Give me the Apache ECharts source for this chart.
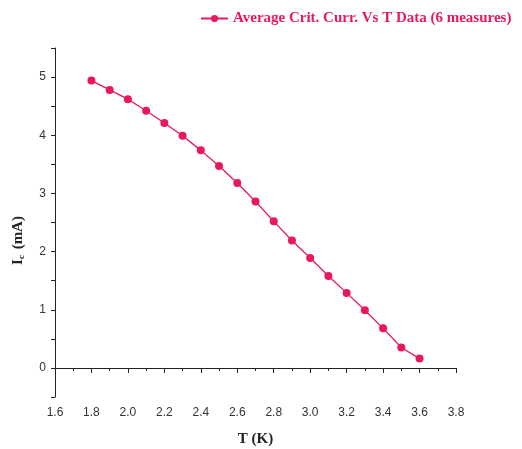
<!DOCTYPE html>
<html><head><meta charset="utf-8">
<script src="https://cdn.jsdelivr.net/npm/echarts@6/dist/echarts.min.js"></script>
<style>html,body{margin:0;padding:0;background:#fff}#c{width:522px;height:449px}</style>
</head><body><div id="c"></div>
<script>
const temperatures = [1.8,1.9,2.0,2.1,2.2,2.3,2.4,2.5,2.6,2.7,2.8,2.9,3.0,3.1,3.2,3.3,3.4,3.5,3.6];
const critCurrent = [4.94,4.78,4.62,4.42,4.21,3.99,3.74,3.47,3.18,2.86,2.52,2.19,1.89,1.58,1.29,0.99,0.68,0.35,0.16];
const seriesName = 'Average Crit. Curr. Vs T Data (6 measures)';
const xLabel = 'T (K)';

const color = '#e8185a';
const serif = '"Liberation Serif","DejaVu Serif",serif';
const sans = '"Liberation Sans",Arial,sans-serif';
const chart = echarts.init(document.getElementById('c'));
chart.setOption({
  animation:false,
  backgroundColor:'#fff',
  legend:{left:195,top:6,itemWidth:27,itemHeight:9,itemGap:6,
    textStyle:{color:color,fontFamily:serif,fontWeight:'bold',fontSize:15},
    data:[seriesName]},
  grid:{left:55,right:66,top:48,bottom:52,containLabel:false,outerBoundsMode:'none'},
  xAxis:{type:'value',min:1.6,max:3.8,interval:0.2,
    name:xLabel,nameLocation:'middle',nameGap:35,
    nameTextStyle:{fontFamily:serif,fontWeight:'bold',fontSize:15,color:'#222'},
    axisLine:{lineStyle:{color:'#222',width:1}},
    axisTick:{show:true,inside:false,length:5,lineStyle:{color:'#222'}},
    minorTick:{show:true,splitNumber:2,length:3,lineStyle:{color:'#222'}},
    splitLine:{show:false},
    axisLabel:{margin:10,color:'#333',fontFamily:sans,fontSize:12,formatter:v=>v.toFixed(1)}},
  yAxis:{type:'value',min:-0.5,max:5.5,interval:0.5,
    name:'I{sub|c} (mA)',nameLocation:'middle',nameGap:29,
    nameTextStyle:{fontFamily:serif,fontWeight:'bold',fontSize:15,color:'#222',padding:[0,36,0,0],
      rich:{sub:{fontFamily:serif,fontWeight:'bold',fontSize:9,color:'#222',verticalAlign:'bottom',padding:[7,2,0,0]}}},
    axisLine:{show:true,lineStyle:{color:'#222',width:1}},
    axisTick:{show:true,inside:false,length:4,lineStyle:{color:'#222'}},
    splitLine:{show:false},
    axisLabel:{margin:9,color:'#333',fontFamily:sans,fontSize:12,
      formatter:v=>Number.isInteger(Math.round(v*10)/10)?String(Math.round(v)):''}},
  series:[{name:seriesName,type:'line',
    data:temperatures.map((t,i)=>[t,critCurrent[i]]),
    symbol:'circle',symbolSize:8,
    lineStyle:{color:color,width:1.3},
    itemStyle:{color:color}}]
});
</script></body></html>
